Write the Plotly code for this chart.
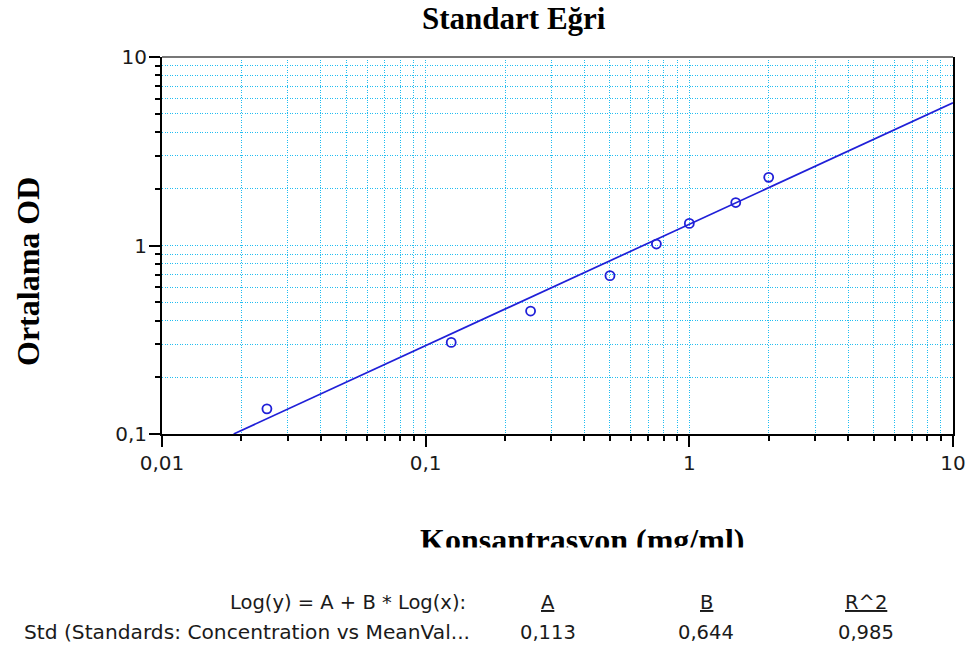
import plotly.graph_objects as go

# ---- data ----
conc = [0.025, 0.125, 0.25, 0.5, 0.75, 1.0, 1.5, 2.0]
mean_od = [0.136, 0.306, 0.449, 0.692, 1.018, 1.31, 1.69, 2.30]

fit_x = [0.0187, 10.0]
fit_y = [0.10, 5.71]

x_tickvals = [0.01, 0.1, 1, 10]
x_ticktext = ["0,01", "0,1", "1", "10"]
y_tickvals = [0.1, 1, 10]
y_ticktext = ["0,1", "1", "10"]

fit_header = ["A", "B", "R^2"]
fit_values = ["0,113", "0,644", "0,985"]
fit_label = "Log(y) = A + B * Log(x):"
series_label = "Std (Standards: Concentration vs MeanVal..."

title_text = "Standart Eğri"
x_title = "Konsantrasyon (mg/ml)"
y_title = "Ortalama OD"

# ---- layout geometry (pixels) ----
W, H = 969, 647
L, R, T, B = 162, 953, 57, 434


def px(x):
    return (x - L) / (R - L)


def py(y):
    return (B - y) / (B - T)


BLUE = "#2020d8"
GRID = "#22bdf0"
SERIF = "Liberation Serif, Times New Roman, serif"
SANS = "DejaVu Sans, Verdana, sans-serif"
TXT = "#1a1a1a"

fig = go.Figure()
fig.add_trace(go.Scatter(
    x=fit_x, y=fit_y, mode="lines",
    line=dict(color=BLUE, width=1.7),
    hoverinfo="skip", showlegend=False))
fig.add_trace(go.Scatter(
    x=conc, y=mean_od, mode="markers",
    marker=dict(symbol="circle-open", size=9, color=BLUE, line=dict(width=1.8, color=BLUE)),
    showlegend=False))

axis_common = dict(
    type="log", automargin=False,
    showgrid=True, gridcolor=GRID, griddash="1px,1.5px", gridwidth=1.3,
    ticks="outside", ticklen=11, tickwidth=2, tickcolor="black",
    showline=True, linecolor="black", linewidth=2,
    tickfont=dict(family=SANS, size=20, color=TXT),
    zeroline=False,
    minor=dict(dtick="D1", ticks="outside", ticklen=5, tickwidth=2, tickcolor="black",
               showgrid=True, gridcolor=GRID, griddash="1px,1.5px", gridwidth=1.3),
)

fig.update_xaxes(**axis_common, range=[-2, 1], tickvals=x_tickvals, ticktext=x_ticktext,
                 mirror=False, ticklabelstandoff=-1)
fig.update_yaxes(**axis_common, range=[-1, 1], tickvals=y_tickvals, ticktext=y_ticktext,
                 mirror=True, ticklabelstandoff=-2)

annotations = [
    dict(text="<b>" + title_text + "</b>", x=px(514), y=py(18), font=dict(family=SERIF, size=31, color="black")),
    dict(text="<b>" + y_title + "</b>", x=px(28), y=py(272), textangle=-90,
         font=dict(family=SERIF, size=32, color="black")),
    dict(text="<b>" + x_title + "</b>", x=px(582), y=py(540), font=dict(family=SERIF, size=32, color="black")),
    # white strip emulating the clipped lower edge of the x-axis title
    dict(text=" ", x=px(582), y=py(562), width=420, height=26, bgcolor="white",
         font=dict(family=SANS, size=10, color="white")),
    dict(text=fit_label, x=px(468), y=py(602), xanchor="right",
         font=dict(family=SANS, size=19.5, color=TXT)),
    dict(text=series_label, x=px(22), y=py(632), xanchor="left",
         font=dict(family=SANS, size=20.2, color=TXT)),
]
col_x = [548, 706, 866]
for cx, hdr, val in zip(col_x, fit_header, fit_values):
    annotations.append(dict(text="<u>" + hdr + "</u>", x=px(cx), y=py(602),
                            font=dict(family=SANS, size=19.5, color=TXT)))
    annotations.append(dict(text=val, x=px(cx), y=py(632),
                            font=dict(family=SANS, size=19.5, color=TXT)))

for a in annotations:
    a.setdefault("xanchor", "center")
    a.update(xref="paper", yref="paper", yanchor="middle", showarrow=False)

fig.update_layout(
    width=W, height=H,
    margin=dict(l=L, r=W - R, t=T, b=H - B),
    paper_bgcolor="white", plot_bgcolor="white",
    annotations=annotations,
    shapes=[dict(type="line", xref="paper", yref="paper", x0=0, x1=1, y0=1, y1=1,
                 line=dict(color="#777", width=2))],
    hovermode="closest",
)

fig.write_html("out.html")
